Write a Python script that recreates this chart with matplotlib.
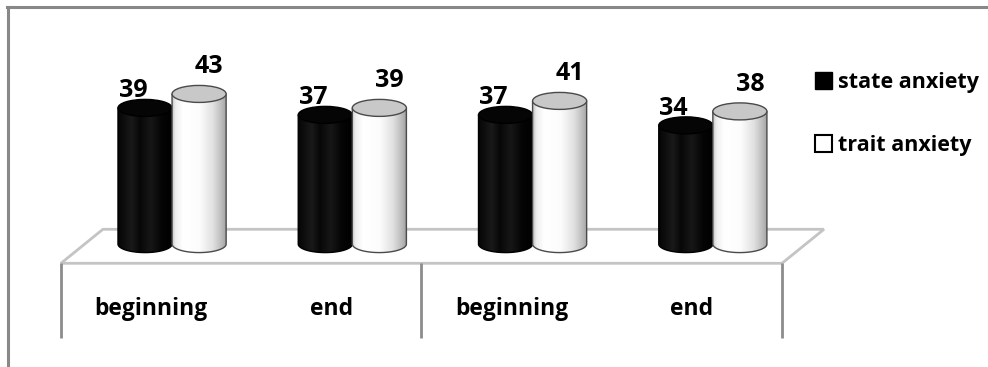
import numpy as np
import matplotlib
matplotlib.use("Agg")
import matplotlib.pyplot as plt
from matplotlib.patches import PathPatch, Ellipse, Polygon, Patch
from matplotlib.path import Path
from matplotlib.lines import Line2D

# ---- data ----
categories = ["beginning", "end", "beginning", "end"]
state_anxiety = [39, 37, 37, 34]
trait_anxiety = [43, 39, 41, 38]
series_names = ["state anxiety", "trait anxiety"]

# ---- figure / axes set up so one x unit = one category slot ----
W, H, DPI = 988, 367, 100
fig = plt.figure(figsize=(W / DPI, H / DPI), dpi=DPI)
ax = fig.add_axes([0, 0, 1, 1])
ax.set_axis_off()
XL = (-0.838, 4.643)
YL = (-35.2, 69.9)
ax.set_xlim(*XL)
ax.set_ylim(*YL)

px_x = (XL[1] - XL[0]) / W   # data units per pixel, horizontal
px_y = (YL[1] - YL[0]) / H   # data units per pixel, vertical

FONT = "Open Sans"

# ---- floor (3D base) and category table ----
depth_dx, depth_dy = 42 * px_x, 34 * px_y
front_y, back_y = -5.5, -5.5 + depth_dy
left, right = -0.5, len(categories) - 0.5
floor = Polygon([(left, front_y), (right, front_y),
                 (right + depth_dx, back_y), (left + depth_dx, back_y)],
                closed=True, facecolor="white", edgecolor="#c4c4c4",
                linewidth=2, zorder=1)
ax.add_patch(floor)

table_bottom = -26.9
for xv in (left, left + 2, right):
    ax.plot([xv, xv], [front_y, table_bottom], color="#8c8c8c",
            linewidth=2, solid_capstyle="butt", zorder=1)

for i, name in enumerate(categories):
    ax.text(i, -18.5, name, ha="center", va="center", fontsize=16.5,
            fontweight="bold", family=FONT, color="black")

# ---- cylinders ----
bar_w = 0.30
ell_h = 17 * px_y
shift = depth_dx / 2          # bars stand midway in the floor's depth
offsets = (-0.15, 0.15)


def shade(stops, n=120):
    pos = np.array([s[0] for s in stops])
    val = np.array([s[1] for s in stops])
    g = np.interp(np.linspace(0, 1, n), pos, val)
    return np.dstack([g, g, g])[0:1]


black_shade = shade([(0, 0.02), (0.25, 0.10), (0.4, 0.03), (0.6, 0.09),
                     (0.8, 0.02), (1, 0.0)])
white_shade = shade([(0, 0.78), (0.06, 0.93), (0.2, 1.0), (0.5, 0.99),
                     (0.75, 0.88), (0.92, 0.72), (1, 0.62)])


def cylinder(cx, value, body_img, top_face, edge, z):
    a, b = bar_w / 2, ell_h / 2
    x0, x1 = cx - a, cx + a
    t = np.linspace(np.pi, 2 * np.pi, 60)
    verts = [(x0, value), (x0, 0)]
    verts += list(zip(cx + a * np.cos(t), b * np.sin(t)))
    verts += [(x1, value), (x0, value)]
    codes = [Path.MOVETO] + [Path.LINETO] * (len(verts) - 2) + [Path.CLOSEPOLY]
    body = PathPatch(Path(verts, codes), facecolor="none", edgecolor=edge,
                     linewidth=1, zorder=z + 0.2)
    ax.add_patch(body)
    im = ax.imshow(body_img, extent=(x0, x1, -b, value), aspect="auto",
                   interpolation="bilinear", zorder=z)
    im.set_clip_path(body)
    ax.add_patch(Ellipse((cx, value), bar_w, ell_h, facecolor=top_face,
                         edgecolor=edge, linewidth=1, zorder=z + 0.3))


for i in range(len(categories)):
    cb = i + offsets[0] + shift
    cw = i + offsets[1] + shift
    cylinder(cb, state_anxiety[i], black_shade, "#050505", "#000000", 3)
    cylinder(cw, trait_anxiety[i], white_shade, "#c8c8c8", "#4a4a4a", 5)
    ax.text(cb - 12 * px_x, state_anxiety[i] + 17 * px_y, str(state_anxiety[i]),
            ha="center", va="center", fontsize=18, fontweight="bold",
            family=FONT, color="black", zorder=8)
    ax.text(cw + 10 * px_x, trait_anxiety[i] + 27 * px_y, str(trait_anxiety[i]),
            ha="center", va="center", fontsize=18, fontweight="bold",
            family=FONT, color="black", zorder=8)

ax.set_xlim(*XL)
ax.set_ylim(*YL)

# ---- legend ----
handles = [Patch(facecolor="black", edgecolor="black", label=series_names[0]),
           Patch(facecolor="white", edgecolor="black", linewidth=1.5,
                 label=series_names[1])]
leg = ax.legend(handles=handles, loc="upper left",
                bbox_to_anchor=(815 / W, 1 - 72 / H), frameon=False,
                handlelength=0.8, handleheight=0.8, handletextpad=0.25,
                labelspacing=1.95, borderpad=0, borderaxespad=0,
                prop={"family": FONT, "weight": "bold", "size": 15.5})

# ---- outer frame (top and left edges) ----
fig.add_artist(Line2D([7 / W, 1], [1 - 7 / H, 1 - 7 / H], color="#888888",
                      linewidth=2.2, transform=fig.transFigure))
fig.add_artist(Line2D([8 / W, 8 / W], [0, 1 - 7 / H], color="#888888",
                      linewidth=2.2, transform=fig.transFigure))

fig.savefig("out.png", dpi=DPI)
